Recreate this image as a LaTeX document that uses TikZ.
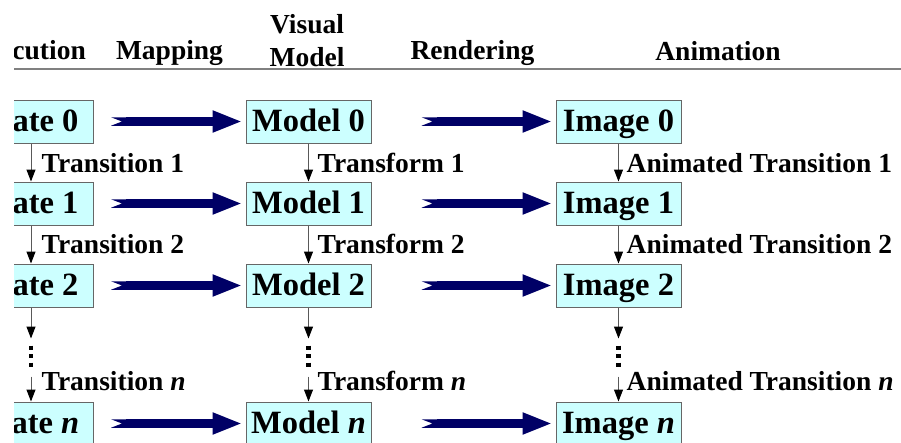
\documentclass[tikz,border=0pt]{standalone}
\usepackage{fontspec}
\setmainfont{Liberation Serif}
\usetikzlibrary{arrows.meta, positioning}
\definecolor{boxfill}{HTML}{CCFFFF}
\definecolor{navyarrow}{HTML}{000066}
\tikzstyle{block} = [draw=gray!80!black, fill=boxfill, rectangle, line width=1pt, minimum width=125pt, minimum height=43pt, inner sep=3pt, text height=24pt, text depth=4pt, font=\fontsize{32.5}{36}\selectfont\bfseries]
\tikzstyle{head} = [anchor=base, inner sep=0pt, align=center, font=\fontsize{27.5}{33}\selectfont\bfseries]
\tikzstyle{lbl} = [anchor=base west, inner sep=0pt, font=\fontsize{27.5}{33}\selectfont\bfseries]
\tikzstyle{fat} = [draw=navyarrow, line width=8.5pt, {Triangle Cap[reversed,length=11pt]}-{Triangle[length=30pt,width=20pt]}]
\tikzstyle{flow} = [draw=gray!70!black, line width=1pt, -{Triangle[length=12pt,width=9pt,color=black]}]

\begin{document}
\begin{tikzpicture}[x=1pt,y=-1pt]
  \useasboundingbox (0,0) rectangle (901,442);
  \clip (14,0) rectangle (901,442);

  % column titles
  \node [head] (hexe) at (27,59) {Execution};
  \node [head] (hmap) at (169.5,59) {Mapping};
  \node [head] (hvis) at (307,66) {Visual\\Model};
  \node [head] (hren) at (472.5,59) {Rendering};
  \node [head] (hani) at (718,60) {Animation};
  \draw [gray, line width=2pt] (14,68.5) -- (901,68.5);

  % states
  \node [block] (st0) at (31,121.5) {State 0};
  \node [block, below=38pt of st0] (st1) {State 1};
  \node [block, below=38pt of st1] (st2) {State 2};
  \node [block, below=94pt of st2] (stn) {State \textit{n}};
  % models
  \node [block, right=151.5pt of st0] (m0) {Model 0};
  \node [block, right=151.5pt of st1] (m1) {Model 1};
  \node [block, right=151.5pt of st2] (m2) {Model 2};
  \node [block, right=151.5pt of stn] (mn) {Model \textit{n}};
  % images
  \node [block, right=184pt of m0] (im0) {Image 0};
  \node [block, right=184pt of m1] (im1) {Image 1};
  \node [block, right=184pt of m2] (im2) {Image 2};
  \node [block, right=184pt of mn] (imn) {Image \textit{n}};

  % mapping and rendering
  \foreach \r in {0,1,2,n} {
    \draw [fat, shorten <=17pt, shorten >=3pt] (st\r) -- (m\r);
    \draw [fat, shorten <=50pt, shorten >=3pt] (m\r) -- (im\r);
  }

  % transitions
  \foreach \c in {st,m,im} {
    \draw [flow] (\c0) -- (\c1);
    \draw [flow] (\c1) -- (\c2);
    \coordinate [below=31pt of \c2] (\c2a);
    \coordinate [below=38pt of \c2] (\c2b);
    \coordinate [below=59pt of \c2] (\c2c);
    \coordinate [above=25pt of \c n] (\c2d);
    \draw [flow] (\c2) -- (\c2a);
    \draw [black, line width=4.5pt, dash pattern=on 4pt off 4.5pt] (\c2b) -- (\c2c);
    \draw [flow] (\c2d) -- (\c n);
  }

  \node [lbl] (tr1) at (41.5,172) {Transition 1};
  \node [lbl] (tr2) at (41.5,253) {Transition 2};
  \node [lbl] (trn) at (41.5,390) {Transition \textit{n}};
  \node [lbl] (tf1) at (317.5,172) {Transform 1};
  \node [lbl] (tf2) at (317.5,253) {Transform 2};
  \node [lbl] (tfn) at (317.5,390) {Transform \textit{n}};
  \node [lbl] (at1) at (626.5,172) {Animated Transition 1};
  \node [lbl] (at2) at (626.5,253) {Animated Transition 2};
  \node [lbl] (atn) at (626.5,390) {Animated Transition \textit{n}};
\end{tikzpicture}
\end{document}
